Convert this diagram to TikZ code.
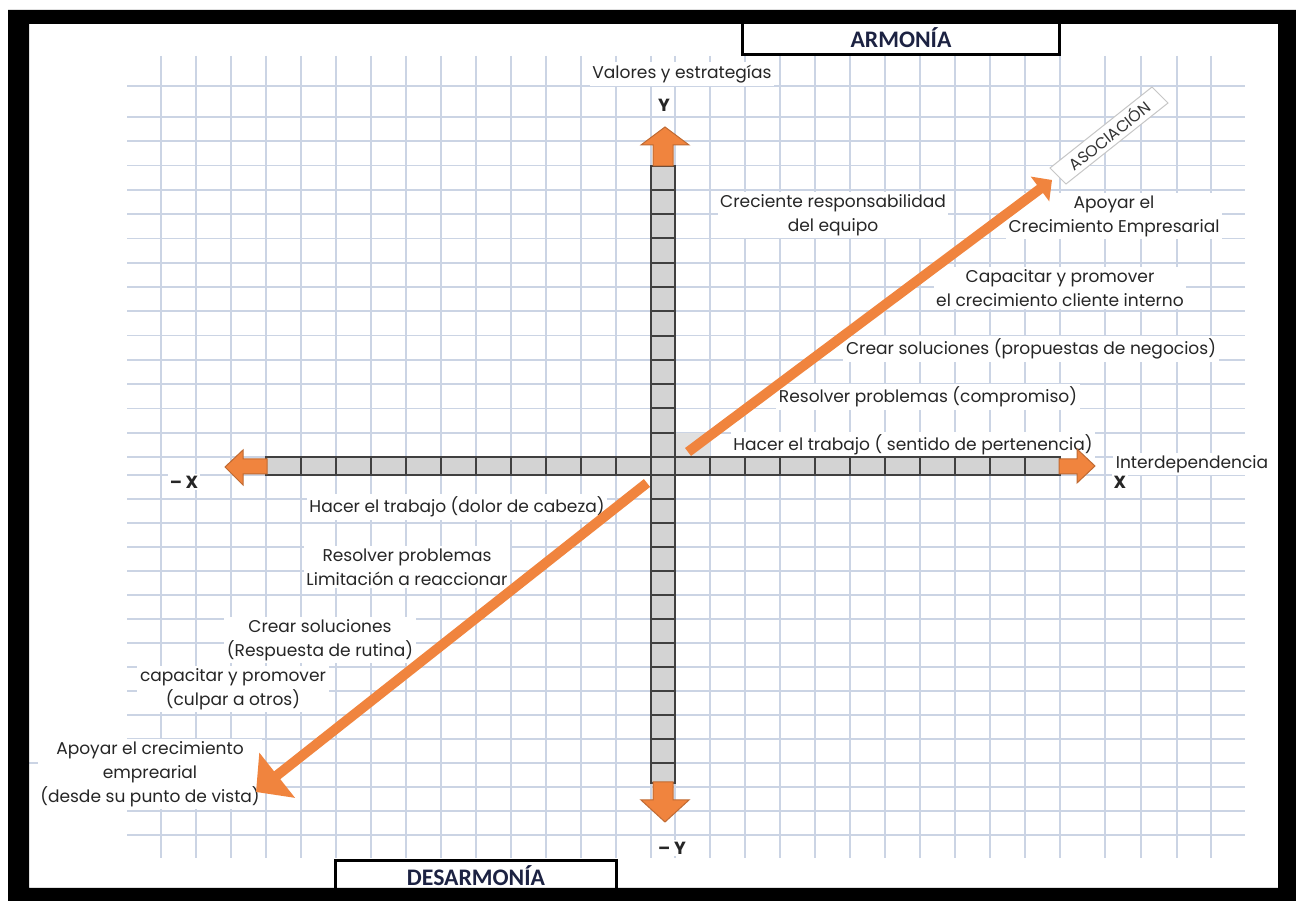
\documentclass[tikz,border=0pt]{standalone}
\usepackage{fontspec}
\setmainfont{Poppins}
\newfontfamily\titlefont{Carlito}
\usetikzlibrary{arrows.meta}
\definecolor{gridblue}{RGB}{203,212,228}
\definecolor{axisorange}{RGB}{240,132,62}
\definecolor{cellgray}{RGB}{211,211,211}
\definecolor{titleblue}{RGB}{28,34,66}

\begin{document}
\begin{tikzpicture}[x=0.02cm, y=-0.02cm,
    gridline/.style={draw=gridblue, line width=0.035cm},
    cell/.style={fill=cellgray, draw=black!75, line width=0.04cm},
    txt/.style={font=\fontsize{9.7}{13.6}\selectfont, align=center, fill=white, inner sep=1.5pt, text=black!85},
    axlab/.style={font=\bfseries\fontsize{10}{12}\selectfont, fill=white, inner sep=1pt, text=black!85},
    title/.style={draw, line width=0.06cm, fill=white, font=\titlefont\bfseries\fontsize{13.5}{14}\selectfont, text=titleblue},
    headarrow/.style={fill=axisorange, draw=axisorange!80!black, line width=0.02cm},
    diag/.style={draw=axisorange, line width=0.2cm}
  ]
    \useasboundingbox (0,0) rectangle (1296,901);
    \fill[white] (0,0) rectangle (1296,901);

    % grid paper
    \foreach \k in {0,...,14}
      \draw[gridline] (127,{117+24.29*\k}) -- (1245,{117+24.29*\k});
    \foreach \k in {0,...,15}
      \draw[gridline] (127,{475+24*\k}) -- (1245,{475+24*\k});
    \draw[gridline] (127,86) -- (1245,86);
    \draw[gridline] (29,763) -- (127,763);
    \foreach \k in {0,...,14}
      \draw[gridline] ({651-35*\k},56) -- ({651-35*\k},858);
    \foreach \gx in {675,710,745,780,815,850,885,920,955,990,1025,1060,1105,1141,1177,1211}
      \draw[gridline] (\gx,56) -- (\gx,858);

    % labels
    \node[txt] (values) at (682,74) {Valores y estrategías};
    \node[axlab] (ypos) at (664,105) {Y};
    \node[axlab] (yneg) at (672,848) {– Y};
    \node[axlab] (xpos) at (1120,482) {X};
    \node[axlab] (xneg) at (184,482) {– X};
    \node[txt] (interdep) at (1192,464) {Interdependencia};

    \node[txt] (q1a) at (833,215) {Creciente responsabilidad\\del equipo};
    \node[txt] (q1b) at (1114,216) {Apoyar el\\Crecimiento Empresarial};
    \node[txt] (q1c) at (1060,288) {Capacitar y promover\\el crecimiento cliente interno};
    \node[txt] (q1d) at (1031,349) {Crear soluciones (propuestas de negocios)};
    \node[txt] (q1e) at (928,397) {Resolver problemas (compromiso)};
    \node[txt] (q1f) at (913,445) {Hacer el trabajo ( sentido de pertenencia)};

    \node[txt] (q3a) at (457,507) {Hacer el trabajo (dolor de cabeza)};
    \node[txt] (q3b) at (407,567) {Resolver problemas\\Limitación a reaccionar};
    \node[txt] (q3c) at (320,640) {Crear soluciones\\(Respuesta de rutina)};
    \node[txt] (q3d) at (233,689) {capacitar y promover\\(culpar a otros)};
    \node[txt] (q3e) at (150,774) {Apoyar el crecimiento\\emprearial\\(desde su punto de vista)};

    % axes
    \fill[cellgray!70] (675,433) rectangle (710,457);
    \foreach \k in {1,...,11}
      \draw[cell] ({651-35*\k},457) rectangle ++(35,18);
    \foreach \k in {0,...,10}
      \draw[cell] ({675+35*\k},457) rectangle ++(35,18);
    \foreach \k in {2,...,13}
      \draw[cell] (651,{117+24.29*\k}) rectangle (675,{117+24.29*(\k+1)});
    \draw[cell] (651,457) rectangle (675,475);
    \foreach \k in {0,...,11}
      \draw[cell] (651,{475+24*\k}) rectangle ++(24,24);
    \draw[cell] (651,763) rectangle (675,783);

    \filldraw[headarrow] (267,459) -- (243,459) -- (243,450) -- (225,467) -- (243,485) -- (243,474) -- (267,474) -- cycle;
    \filldraw[headarrow] (1059,459) -- (1077,459) -- (1077,449) -- (1095,466) -- (1077,483) -- (1077,474) -- (1059,474) -- cycle;
    \filldraw[headarrow] (653,166) -- (653,145) -- (641,145) -- (665,127) -- (689,145) -- (673,145) -- (673,166) -- cycle;
    \filldraw[headarrow] (653,782) -- (653,800) -- (641,800) -- (665,822) -- (689,800) -- (673,800) -- (673,782) -- cycle;

    % diagonal arrows
    \coordinate (neS) at (688,452);
    \coordinate (neE) at (1052,180);
    \coordinate (swS) at (647,483);
    \coordinate (swE) at (256,792);
    \draw[diag, -{Triangle[length=0.3cm, width=0.6cm]}] (neS) -- (neE);
    \draw[diag, -{Triangle[length=0.54cm, width=1.12cm]}] (swS) -- (swE);

    % rotated tag
    \fill[white, draw=gray!45, line width=0.02cm] (1050,168) -- (1152,87) -- (1168,103) -- (1066,184) -- cycle;
    \node[rotate=38.5, inner sep=0pt, font=\fontsize{9}{9}\selectfont, text=black!80] (assoc) at (1109,135) {ASOCIACIÓN};

    % titles and frame
    \node[title, minimum width=6.34cm, minimum height=0.68cm] (armonia) at (901,38) {ARMONÍA};
    \node[title, minimum width=5.62cm, minimum height=0.64cm] (desarmonia) at (476,876) {DESARMONÍA};
    \fill[black, even odd rule] (8,10) rectangle (1296,901) (29,24) rectangle (1278,888);
  \end{tikzpicture}
\end{document}
